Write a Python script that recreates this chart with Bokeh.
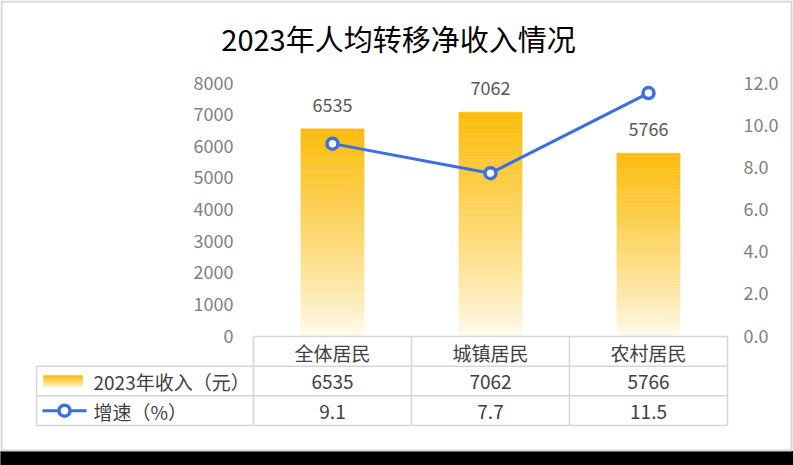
from bokeh.plotting import figure
from bokeh.models import Range1d, LinearAxis, FixedTicker, NumeralTickFormatter
from bokeh.core.properties import value
from bokeh.embed import file_html
from bokeh.resources import INLINE

# ---------------- data ----------------
title = "2023年人均转移净收入情况"
categories = ["全体居民", "城镇居民", "农村居民"]
income = [6535, 7062, 5766]
growth = [9.1, 7.7, 11.5]
income_label = "2023年收入（元）"
growth_label = "增速（%）"
left_ticks = [0, 1000, 2000, 3000, 4000, 5000, 6000, 7000, 8000]
right_ticks = [0, 2, 4, 6, 8, 10, 12]

# ---------------- layout geometry (pixels) ----------------
W, H = 793, 465
PANEL_H = 451
FONT = "Noto Sans CJK SC"
cat_left_px, cat_w_px = 253, 158          # category area starts at 253, 158 px per category
y0_px, ytop_px = 335, 82                  # value 0 and max tick positions
tbl_top_px, row_px = 336, 29.67
tbl_left_px = 36

kx = 1.0 / cat_w_px
def xpx(px):
    return -0.5 + (px - cat_left_px) * kx

kl = left_ticks[-1] / (y0_px - ytop_px)
kr = right_ticks[-1] / (y0_px - ytop_px)
def ypx(px):
    return (y0_px - px) * kl

x_range = Range1d(xpx(0), xpx(W))
y_range = Range1d(ypx(H), ypx(0))

p = figure(width=W, height=H, x_range=x_range, y_range=y_range,
           output_backend="svg", toolbar_location=None,
           x_axis_location=None, y_axis_location=None,
           min_border=0, min_border_left=0, min_border_right=0,
           min_border_top=0, min_border_bottom=0)
p.extra_y_ranges = {
    "right": Range1d(-(H - y0_px) * kr, y0_px * kr),
    "tbl": Range1d((H - tbl_top_px) / row_px, -tbl_top_px / row_px),
}
p.xgrid.grid_line_color = None
p.ygrid.grid_line_color = None
p.outline_line_color = None
p.background_fill_color = "white"
p.border_fill_color = "white"

# page frame and bottom band
p.quad(left=[xpx(0)], right=[xpx(W)], bottom=[ypx(H)], top=[ypx(PANEL_H)],
       fill_color="black", line_color="black")
p.quad(left=[xpx(1)], right=[xpx(791)], bottom=[ypx(PANEL_H - 1)], top=[ypx(1)],
       fill_color=None, line_color="#d6d6d6", line_width=2)

# ---------------- axes ----------------
yl = LinearAxis(ticker=FixedTicker(ticks=left_ticks), fixed_location=-0.5)
yl.axis_line_color = None
yl.major_tick_line_color = None
yl.minor_tick_line_color = None
yl.major_label_standoff = 14
yl.major_label_text_font = FONT
yl.major_label_text_font_size = "18px"
yl.major_label_text_color = "#7f7f7f"
p.add_layout(yl, "left")

yr = LinearAxis(y_range_name="right", ticker=FixedTicker(ticks=right_ticks),
                formatter=NumeralTickFormatter(format="0.0"),
                fixed_location=len(categories) - 0.5)
yr.axis_line_color = None
yr.major_tick_line_color = None
yr.minor_tick_line_color = None
yr.major_label_standoff = 10
yr.major_label_text_font = FONT
yr.major_label_text_font_size = "18px"
yr.major_label_text_color = "#7f7f7f"
p.add_layout(yr, "right")

# ---------------- title ----------------
p.text(x=[xpx(398)], y=[ypx(37)], text=[title],
       text_font=value(FONT), text_font_size="29px", text_color="#000000",
       text_align="center", text_baseline="middle")

# ---------------- gradient bars ----------------
gold = (251, 188, 10)
N = 60
bx, bb, bt, bc = [], [], [], []
for i, v in enumerate(income):
    for j in range(N):
        t = (j + 0.5) / N
        a = 0.05 + 0.95 * t ** 0.8
        c = tuple(int(round(255 * (1 - a) + g * a)) for g in gold)
        bx.append(i)
        bb.append(v * j / N)
        bt.append(v * (j + 1) / N)
        bc.append("#%02x%02x%02x" % c)
p.vbar(x=bx, bottom=bb, top=bt, width=0.4, fill_color=bc, line_color=bc, line_width=0.5)

# value labels above bars
p.text(x=list(range(len(categories))), y=income, text=[str(v) for v in income],
       text_font=value(FONT), text_font_size="18px", text_color="#595959",
       text_align="center", text_baseline="middle", y_offset=-24)

# ---------------- growth line ----------------
blue = "#3b6fe2"
xs = list(range(len(categories)))
p.line(xs, growth, y_range_name="right", line_color=blue, line_width=3)
p.scatter(xs, growth, y_range_name="right", marker="circle", size=11,
          fill_color="white", line_color=blue, line_width=3.5)

# ---------------- data table ----------------
nc = len(categories)
xl = xpx(tbl_left_px)
grid_col = "#d6d6d6"
hx0 = [-0.5, xl, xl, xl]
hx1 = [nc - 0.5] * 4
hy = [0, 1, 2, 3]
p.segment(x0=hx0, y0=hy, x1=hx1, y1=hy, y_range_name="tbl",
          line_color=grid_col, line_width=1.5)
vx = [xl] + [k - 0.5 for k in range(nc + 1)]
vy0 = [1] + [0] * (nc + 1)
vy1 = [3] * (nc + 2)
p.segment(x0=vx, y0=vy0, x1=vx, y1=vy1, y_range_name="tbl",
          line_color=grid_col, line_width=1.5)

p.text(x=xs, y=[0.53] * nc, text=categories, y_range_name="tbl",
       text_font=value(FONT), text_font_size="19px", text_color="#404040",
       text_align="center", text_baseline="middle")
p.text(x=xs, y=[1.53] * nc, text=[str(v) for v in income], y_range_name="tbl",
       text_font=value(FONT), text_font_size="19px", text_color="#404040",
       text_align="center", text_baseline="middle")
p.text(x=xs, y=[2.53] * nc, text=["%.1f" % g for g in growth], y_range_name="tbl",
       text_font=value(FONT), text_font_size="19px", text_color="#404040",
       text_align="center", text_baseline="middle")

# legend column
p.text(x=[xpx(93)] * 2, y=[1.53, 2.53], text=[income_label, growth_label], y_range_name="tbl",
       text_font=value(FONT), text_font_size="19px", text_color="#404040",
       text_align="left", text_baseline="middle")

# legend swatch (gradient)
M = 8
sb, st, sc = [], [], []
for j in range(M):
    t = (j + 0.5) / M
    a = 0.25 + 0.75 * t
    c = tuple(int(round(255 * (1 - a) + g * a)) for g in gold)
    sb.append(1.5 + 5.5 / row_px - (j) * 11 / row_px / M)
    st.append(1.5 + 5.5 / row_px - (j + 1) * 11 / row_px / M)
    sc.append("#%02x%02x%02x" % c)
p.quad(left=[xpx(43)] * M, right=[xpx(82)] * M, bottom=sb, top=st, y_range_name="tbl",
       fill_color=sc, line_color=sc, line_width=0.5)

# legend line + marker
p.line([xpx(42), xpx(86)], [2.5, 2.5], y_range_name="tbl", line_color=blue, line_width=3)
p.scatter([xpx(64)], [2.5], y_range_name="tbl", marker="circle", size=11,
          fill_color="white", line_color=blue, line_width=3.5)

open("out.html", "w").write(file_html(p, INLINE))
